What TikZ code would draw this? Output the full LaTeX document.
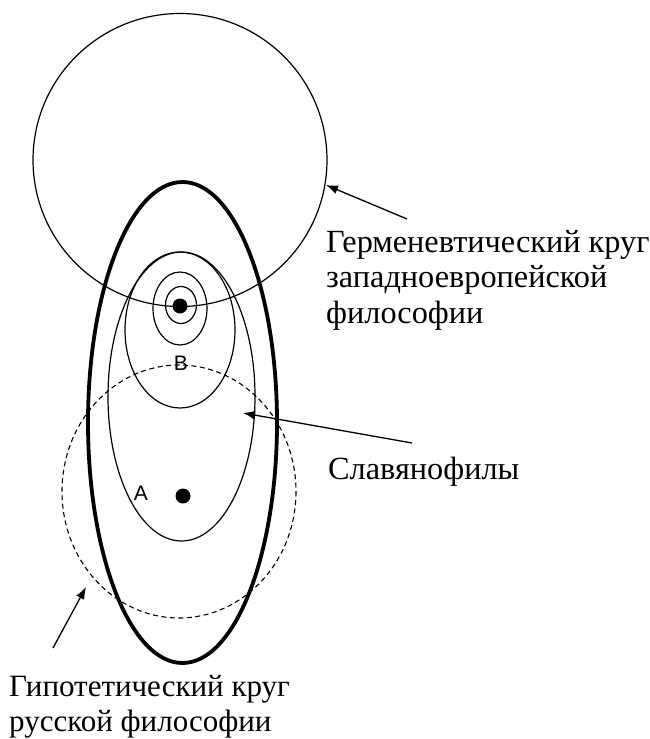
\documentclass[tikz,border=0pt]{standalone}
\usepackage{fontspec}
\setmainfont{Liberation Serif}
\newfontfamily\labfont{Liberation Sans}
\usetikzlibrary{arrows.meta}
\begin{document}
\begin{tikzpicture}[x=1pt,y=-1pt,
  thinline/.style={line width=1.2pt},
  thickline/.style={line width=3.8pt},
  dashline/.style={line width=1.1pt,dash pattern=on 5pt off 3.5pt},
  dotmark/.style={circle,fill=black,inner sep=0pt,minimum size=15pt},
  caption/.style={anchor=base west,inner sep=0pt,font=\fontsize{32.3}{35.5}\selectfont},
  smallcaption/.style={caption,font=\fontsize{31}{35}\selectfont},
  letter/.style={inner sep=0pt,font=\labfont\fontsize{21}{24}\selectfont},
  pointer/.style={line width=1.3pt,-{Latex[length=12pt,width=9pt]}}]
\useasboundingbox (0,0) rectangle (650,739);
% western hermeneutic circle
\draw[thinline] (180,160) ellipse [x radius=147, y radius=146.5];
% hypothetical circle of Russian philosophy (thick ellipse)
\draw[thickline] (182.5,422.5) ellipse [x radius=94.5, y radius=240.5];
% Slavophiles ellipse
\draw[thinline] (181.5,396.5) ellipse [x radius=73.5, y radius=144.5];
% B ellipse
\draw[thinline] (180,330) ellipse [x radius=55, y radius=78];
% concentric rings around the dot
\draw[thinline] (180,308.5) ellipse [x radius=27, y radius=36.5];
\draw[thinline] (181,305) ellipse [x radius=15.5, y radius=18.5];
\node[dotmark] (dotB) at (180,306) {};
% dashed circle
\draw[dashline] (179,491.5) ellipse [x radius=117, y radius=126.5];
% point A
\node[dotmark] (dotA) at (183,496) {};
\node[letter] (labA) at (141,493) {A};
\node[letter] (labB) at (181,363) {B};
% captions
\node[caption] (herm1) at (326,252) {Герменевтический круг};
\node[caption] (herm2) at (326,287.5) {западноевропейской};
\node[caption] (herm3) at (326,323) {философии};
\node[caption] (slav) at (328,479) {Славянофилы};
\node[smallcaption] (hyp1) at (9,696) {Гипотетический круг};
\node[smallcaption] (hyp2) at (9,731) {русской философии};
% arrows
\coordinate (hermTail) at (407,219);
\coordinate (hermTip) at (326,185);
\coordinate (slavTail) at (412,443);
\coordinate (slavTip) at (243,413);
\coordinate (hypTail) at (53,648);
\coordinate (hypTip) at (86,587);
\draw[pointer] (hermTail) -- (hermTip);
\draw[pointer] (slavTail) -- (slavTip);
\draw[pointer] (hypTail) -- (hypTip);
\end{tikzpicture}
\end{document}
